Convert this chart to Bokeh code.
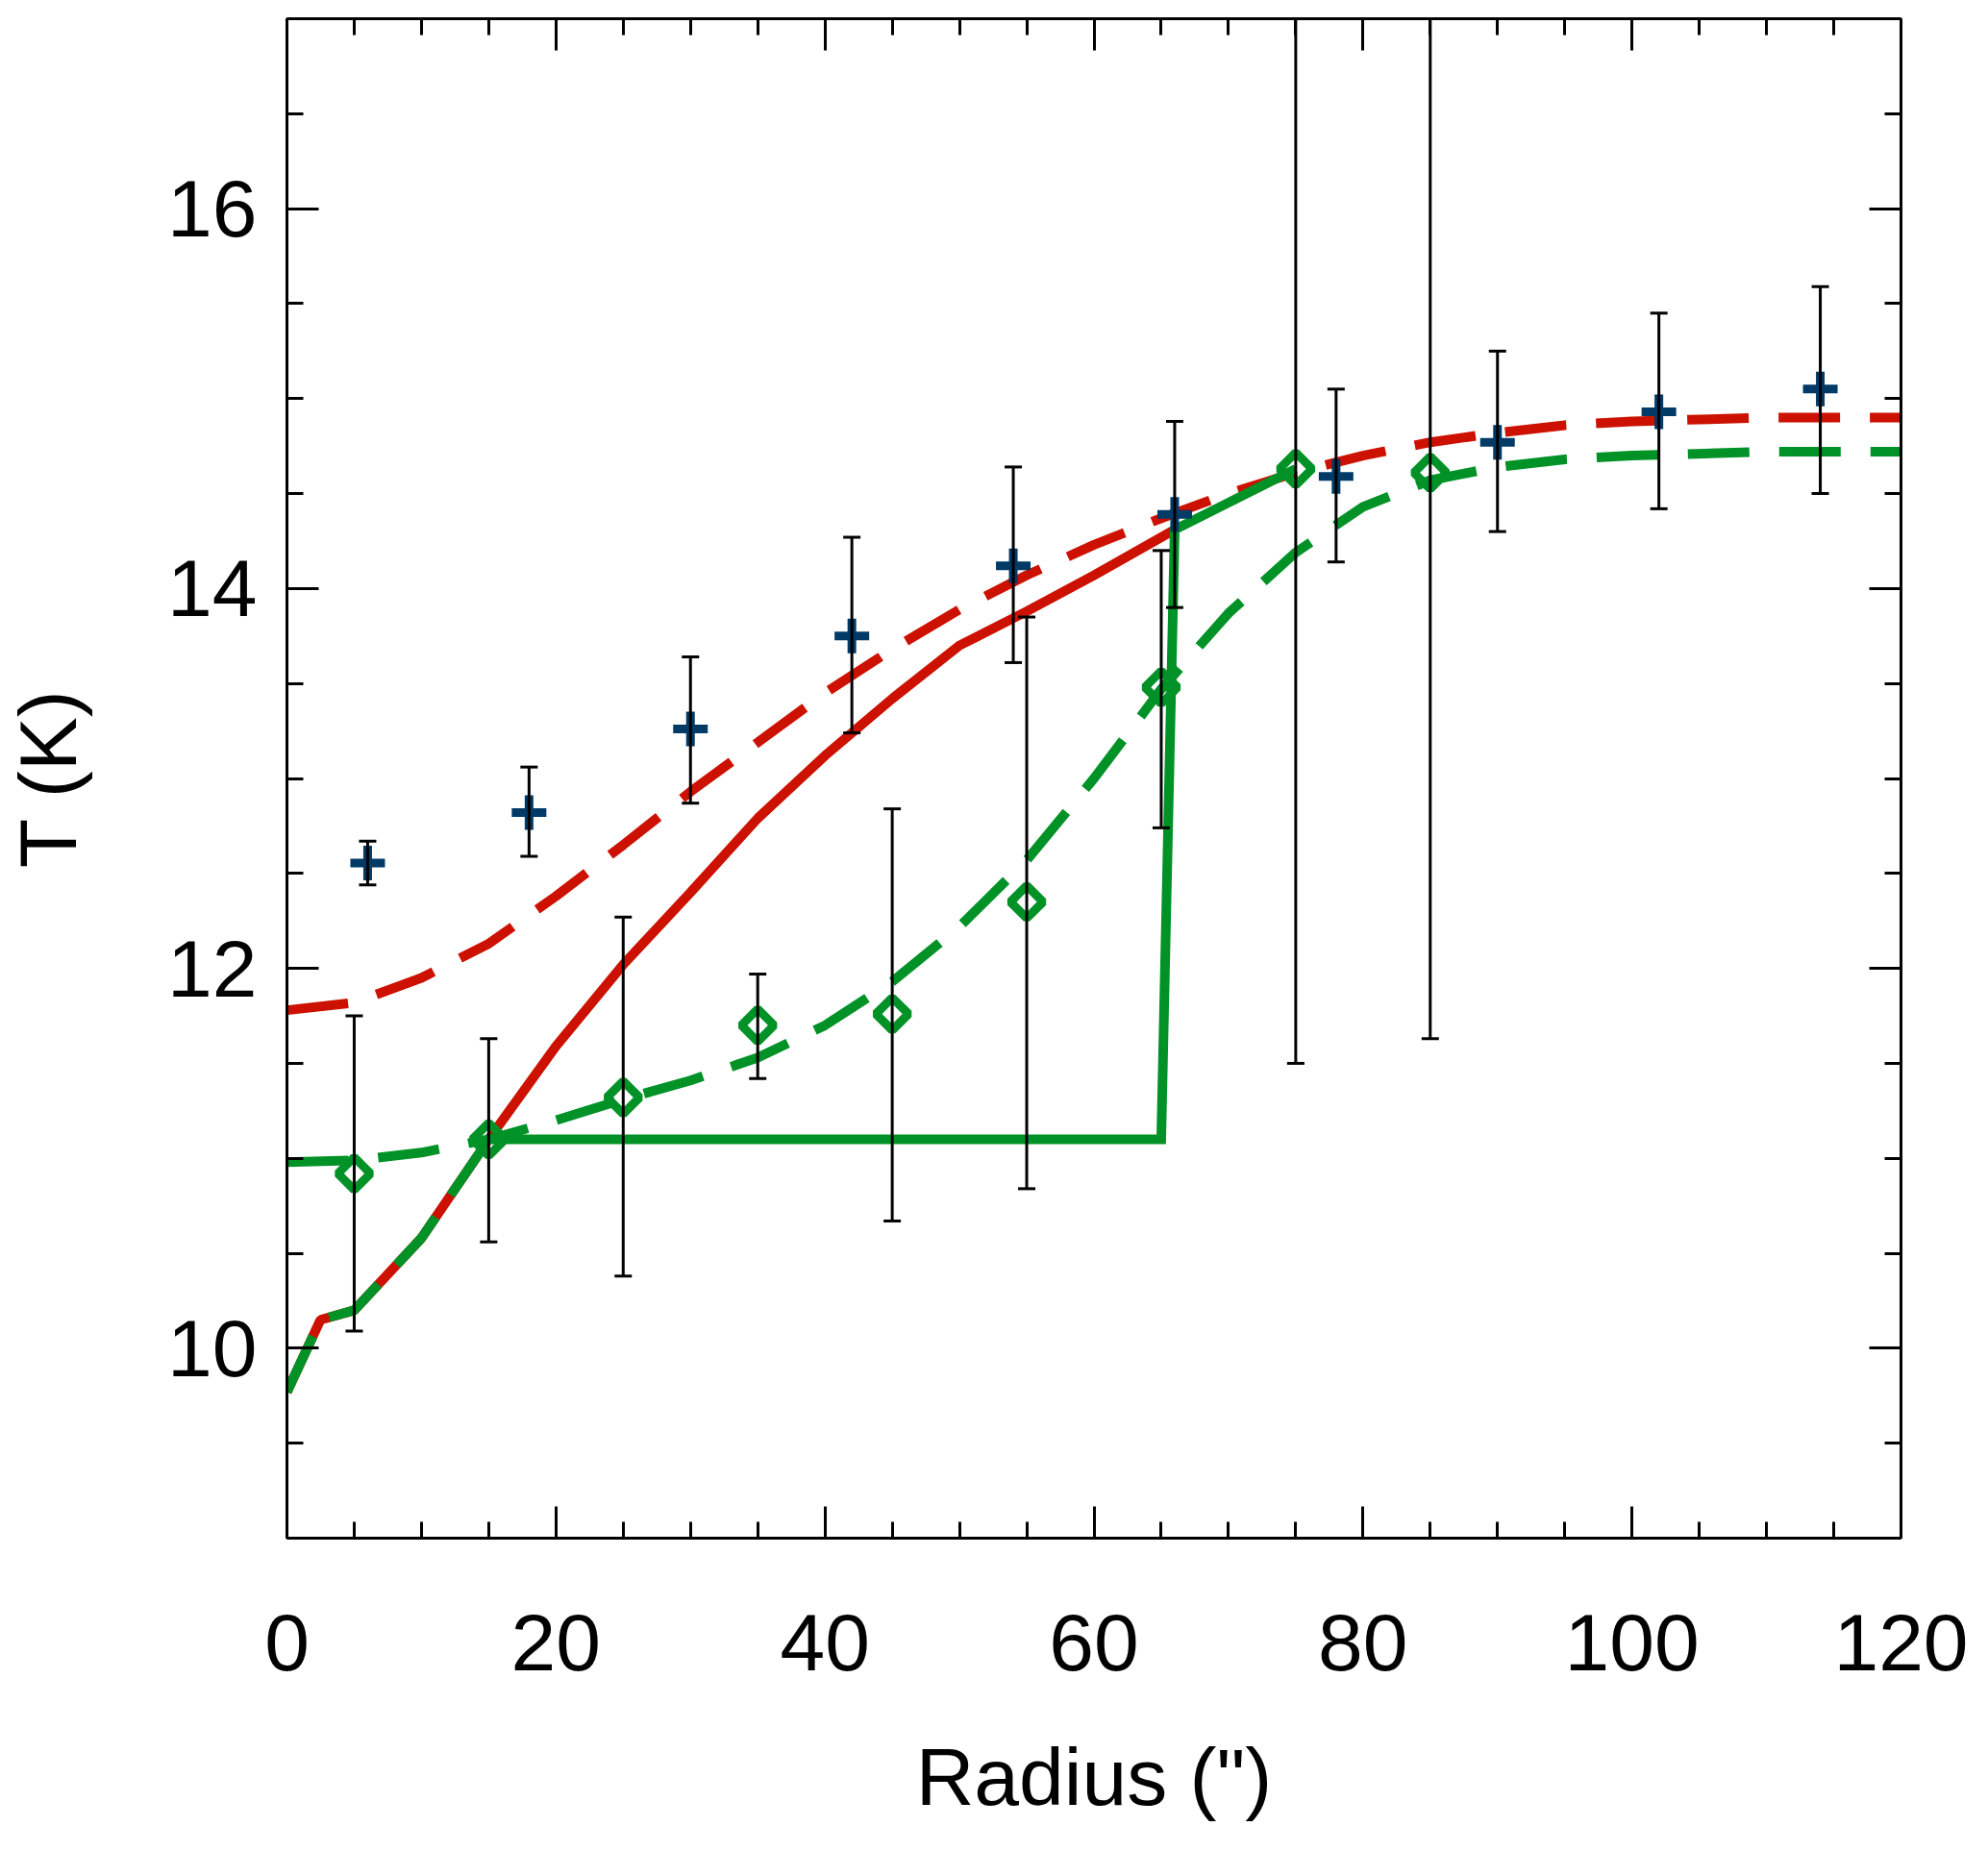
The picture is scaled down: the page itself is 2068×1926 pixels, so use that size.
import numpy as np
from bokeh.plotting import figure
from bokeh.models import LinearAxis, SingleIntervalTicker, Range1d, ColumnDataSource
from bokeh.embed import file_html
from bokeh.resources import INLINE

# ---------------- data ----------------
# observed profile (blue crosses)
obs_r = [6, 18, 30, 42, 54, 66, 78, 90, 102, 114]
obs_t = [12.555, 12.82, 13.26, 13.75, 14.12, 14.39, 14.59, 14.77, 14.93, 15.05]
obs_lo = [12.44, 12.59, 12.87, 13.24, 13.61, 13.90, 14.14, 14.30, 14.42, 14.50]
obs_hi = [12.67, 13.06, 13.64, 14.27, 14.64, 14.88, 15.05, 15.25, 15.45, 15.59]

# derived profile (green diamonds)
inv_r = [5, 15, 25, 35, 45, 55, 65, 75, 85]
inv_t = [10.92, 11.10, 11.32, 11.70, 11.76, 12.35, 13.48, 14.63, 14.61]
inv_lo = [10.09, 10.56, 10.38, 11.42, 10.67, 10.84, 12.74, 11.50, 11.63]
inv_hi = [11.75, 11.63, 12.27, 11.97, 12.84, 13.85, 14.20, 17.76, 17.59]

# model curves
red_dash_r = [0, 5, 10, 15, 20, 25, 30, 35, 40, 45, 50, 55, 60, 65, 70, 75, 80, 85, 90, 95, 100, 110, 120]
red_dash_t = [11.78, 11.82, 11.95, 12.13, 12.38, 12.65, 12.93, 13.19, 13.45, 13.68, 13.89, 14.07, 14.23,
              14.37, 14.50, 14.61, 14.70, 14.77, 14.82, 14.86, 14.88, 14.90, 14.90]

green_dash_r = [0, 5, 10, 15, 20, 25, 30, 35, 40, 45, 50, 55, 60, 65, 70, 75, 80, 85, 90, 95, 100, 110, 120]
green_dash_t = [10.98, 10.99, 11.03, 11.10, 11.20, 11.31, 11.41, 11.53, 11.70, 11.93, 12.22, 12.57, 13.00,
                13.47, 13.87, 14.19, 14.43, 14.57, 14.64, 14.68, 14.70, 14.72, 14.72]

red_solid_r = [0, 2.5, 5, 10, 15, 20, 25, 30, 35, 40, 45, 50, 55, 60, 66]
red_solid_t = [9.77, 10.15, 10.20, 10.58, 11.10, 11.59, 12.02, 12.40, 12.79, 13.12, 13.42, 13.70, 13.88, 14.07, 14.31]

green_inner_r = [0, 2.5, 5, 10, 15]
green_inner_t = [9.77, 10.15, 10.20, 10.58, 11.10]
green_step_r = [15, 65, 66, 75]
green_step_t = [11.10, 11.10, 14.31, 14.63]

x_ticks_interval = 20
y_ticks_interval = 2

RED = "#CC1100"
GREEN = "#009226"
BLUE = "#003A66"
FONT = "Liberation Sans"

p = figure(width=2052, height=1910, x_range=Range1d(0, 120), y_range=Range1d(9, 17),
           output_backend="svg", toolbar_location=None,
           min_border_left=298, min_border_right=75, min_border_top=19, min_border_bottom=310)
p.outline_line_color = None
p.xgrid.visible = False
p.ygrid.visible = False
p.background_fill_color = "white"
p.border_fill_color = "white"

xt = SingleIntervalTicker(interval=x_ticks_interval, num_minor_ticks=4)
yt = SingleIntervalTicker(interval=y_ticks_interval, num_minor_ticks=4)


def style_axis(ax, ticker, labels=True):
    ax.ticker = ticker
    ax.axis_line_width = 3
    ax.axis_line_color = "black"
    ax.major_tick_line_width = 3
    ax.minor_tick_line_width = 3
    ax.major_tick_in = 33
    ax.major_tick_out = 0
    ax.minor_tick_in = 17
    ax.minor_tick_out = 0
    ax.major_label_text_font = FONT
    ax.axis_label_text_font = FONT
    ax.axis_label_text_font_style = "normal"
    ax.axis_label_text_color = "black"
    if labels:
        ax.major_label_text_color = "black"
        ax.major_label_text_font_size = "84px"
        ax.axis_label_text_font_size = "84px"
    else:
        ax.major_label_text_color = None
        ax.major_label_text_font_size = "1px"
        ax.major_label_standoff = 0
        ax.axis_label = None


xa = p.xaxis[0]
ya = p.yaxis[0]
style_axis(xa, xt)
style_axis(ya, yt)
xa.axis_label = 'Radius (")'
ya.axis_label = "T (K)"
xa.major_label_standoff = 79
xa.axis_label_standoff = 61
ya.major_label_standoff = 31
ya.axis_label_standoff = 74

top = LinearAxis()
style_axis(top, xt, labels=False)
p.add_layout(top, "above")
right = LinearAxis()
style_axis(right, yt, labels=False)
p.add_layout(right, "right")

# model lines
p.line(red_dash_r, red_dash_t, line_color=RED, line_width=10, line_dash="64 31")
p.line(red_solid_r, red_solid_t, line_color=RED, line_width=10)
p.line(green_dash_r, green_dash_t, line_color=GREEN, line_width=10, line_dash="64 31")
p.line(green_inner_r, green_inner_t, line_color=GREEN, line_width=10, line_dash="64 28")
p.line(green_step_r, green_step_t, line_color=GREEN, line_width=10, line_join="miter")

# markers
p.scatter(inv_r, inv_t, marker="square", angle=np.pi / 4, size=24, fill_color=None,
          line_color=GREEN, line_width=9)
p.scatter(obs_r, obs_t, marker="cross", size=36, line_color=BLUE, line_width=9)

# error bars
for r, lo, hi in ((obs_r, obs_lo, obs_hi), (inv_r, inv_lo, inv_hi)):
    src = ColumnDataSource(dict(x=r, lo=lo, hi=hi))
    p.segment(x0="x", y0="lo", x1="x", y1="hi", source=src, line_color="black", line_width=3)
    p.scatter(x="x", y="lo", source=src, marker="dash", size=18, line_color="black", line_width=3)
    p.scatter(x="x", y="hi", source=src, marker="dash", size=18, line_color="black", line_width=3)

open("out.html", "w").write(file_html(p, INLINE))
